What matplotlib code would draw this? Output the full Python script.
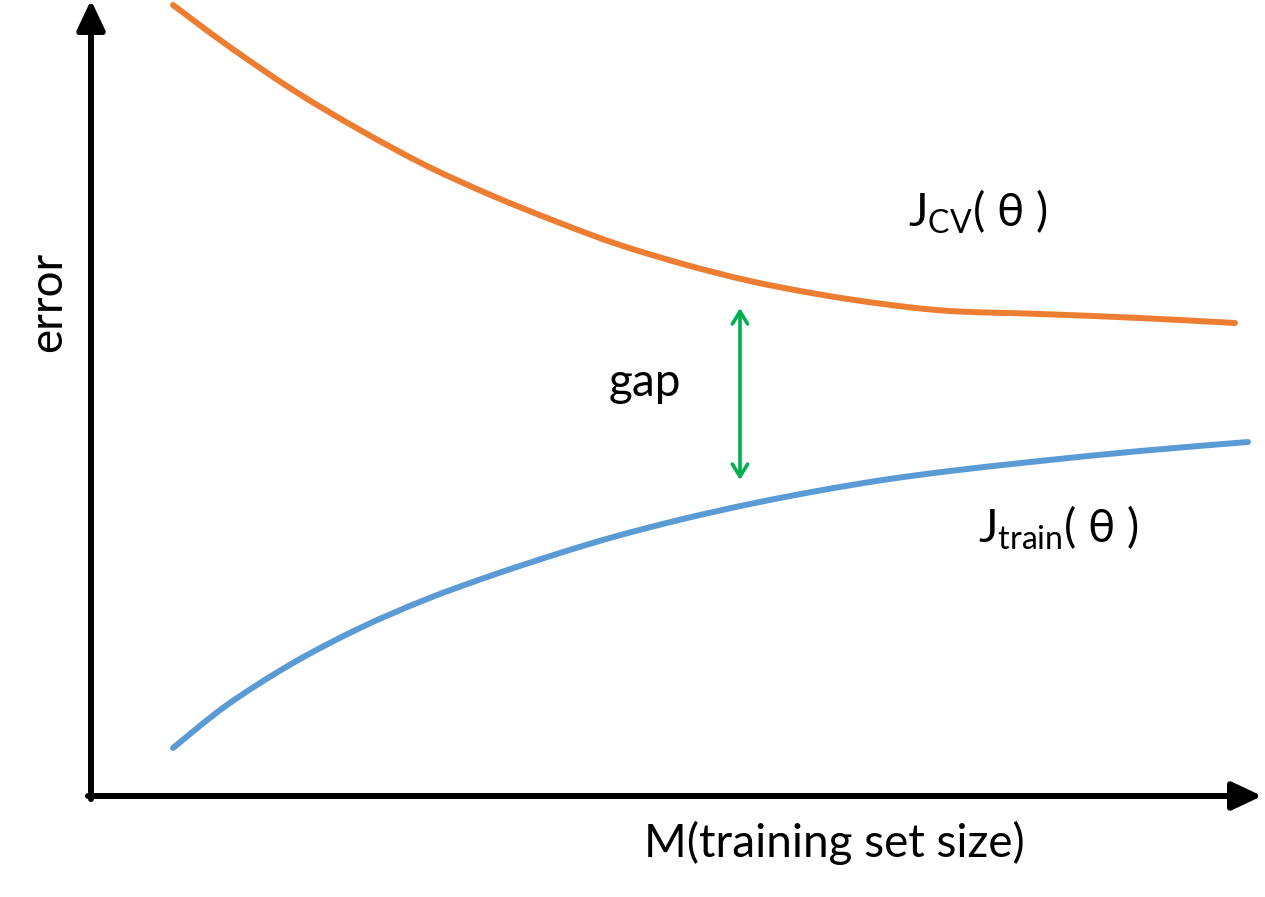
import matplotlib.pyplot as plt
from matplotlib.path import Path
from matplotlib.patches import PathPatch

plt.rcParams['font.family'] = ['Lato', 'DejaVu Sans']
plt.rcParams['mathtext.fontset'] = 'custom'
plt.rcParams['mathtext.rm'] = 'Lato'

# curves (M = training set size, arbitrary units)
m_cv = [82, 136, 202, 269, 336, 402, 469, 526, 592, 659, 726, 792, 859, 949, 1049, 1144]
err_cv = [791, 751, 706, 666, 630, 600, 573, 552, 532, 515, 502, 492, 485, 482, 478, 473]
m_train = [82, 136, 202, 269, 336, 402, 469, 526, 592, 659, 726, 792, 859, 949, 1049, 1157]
err_train = [48, 91, 133, 168, 197, 221, 243, 260, 277, 292, 305, 316, 325, 335, 345, 354]

gap_m = 649
gap_top = 488
gap_bottom = 316


def smooth_path(xs, ys):
    # cubic bezier through the read points (catmull-rom handles)
    pts = list(zip(xs, ys))
    verts = [pts[0]]
    codes = [Path.MOVETO]
    for i in range(len(pts) - 1):
        p0 = pts[max(i - 1, 0)]
        p1 = pts[i]
        p2 = pts[i + 1]
        p3 = pts[min(i + 2, len(pts) - 1)]
        c1 = (p1[0] + (p2[0] - p0[0]) / 6, p1[1] + (p2[1] - p0[1]) / 6)
        c2 = (p2[0] - (p3[0] - p1[0]) / 6, p2[1] - (p3[1] - p1[1]) / 6)
        verts += [c1, c2, p2]
        codes += [Path.CURVE4] * 3
    return Path(verts, codes)


fig = plt.figure(figsize=(12.65, 8.97), dpi=100)
ax = fig.add_axes([0, 0, 1, 1])
ax.set_xlim(-91, 1174)
ax.set_ylim(-101, 796)
ax.axis('off')

ax.add_patch(PathPatch(smooth_path(m_cv, err_cv), fill=False, ec='#ED7D31', lw=4.3,
                       capstyle='round', joinstyle='round'))
ax.add_patch(PathPatch(smooth_path(m_train, err_train), fill=False, ec='#5B9BD5', lw=4.3,
                       capstyle='round', joinstyle='round'))

# axes with arrow heads
axis_style = dict(arrowstyle='-|>,head_length=1.8,head_width=0.85', lw=4.3, color='black',
                  shrinkA=0, shrinkB=0)
ax.annotate('', xy=(1171, 0), xytext=(-3, 0), arrowprops=axis_style)
ax.annotate('', xy=(0, 796), xytext=(0, -3), arrowprops=axis_style)

# gap arrow
ax.annotate('', xy=(gap_m, gap_top), xytext=(gap_m, gap_bottom),
            arrowprops=dict(arrowstyle='<->,head_length=0.9,head_width=0.55', lw=2.6,
                            color='#00B050', shrinkA=0, shrinkB=0))

fs = 33
ax.text(554, 413, 'gap', fontsize=fs, ha='center', va='center')
ax.text(817, 584, r'J$_{\mathrm{CV}}$( θ )', fontsize=fs, ha='left', va='center')
ax.text(887, 268, r'J$_{\mathrm{train}}$( θ )', fontsize=fs, ha='left', va='center')
ax.text(743, -47, 'M(training set size)', fontsize=fs, ha='center', va='center')
ax.text(-43, 494, 'error', fontsize=fs, ha='center', va='center', rotation=90)

fig.savefig('out.png', dpi=100)
